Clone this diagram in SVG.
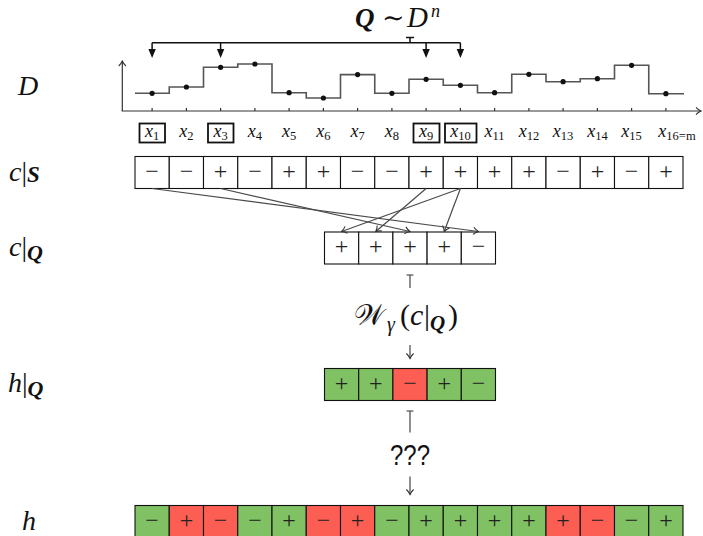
<svg xmlns="http://www.w3.org/2000/svg" width="703" height="536" viewBox="0 0 703 536">
  <defs>
    <style>
      .bg { fill: #ffffff; }
      .cell { stroke: #111; stroke-width: 1.1; }
      .w { fill: #ffffff; }
      .g { fill: #7fc163; }
      .r { fill: #fd5e53; }
      .sg { font-family: "Liberation Serif", "DejaVu Serif", serif; font-size: 24px; fill: #222; text-anchor: middle; }
      .math { font-family: "Liberation Serif", "DejaVu Serif", serif; fill: #111; }
      .it { font-style: italic; }
      .bi { font-style: italic; font-weight: bold; }
      .lbl { font-size: 28px; }
      .xl { font-family: "Liberation Serif", "DejaVu Serif", serif; font-style: italic; font-size: 18px; fill: #111; text-anchor: middle; }
      .sub { font-style: normal; font-size: 12.5px; }
      .xbox { fill: none; stroke: #111; stroke-width: 1.8; }
      .axis { fill: none; stroke: #333; stroke-width: 1.2; }
      .step { fill: none; stroke: #555; stroke-width: 1.6; }
      .dot { fill: #111; }
      .pick { fill: none; stroke: #111; stroke-width: 1.5; }
      .map { fill: none; stroke: #4a4a4a; stroke-width: 1.2; }
      .flow { fill: none; stroke: #333; stroke-width: 1.1; }
    </style>
    <!-- open curved "to" arrowhead -->
    <marker id="to" viewBox="-7 -5 8 10" refX="0" refY="0" markerWidth="8" markerHeight="10" orient="auto" markerUnits="userSpaceOnUse">
      <path d="M-5,-3.6 C-3,-1.4 -0.9,-0.4 0,0 C-0.9,0.4 -3,1.4 -5,3.6" fill="none" stroke="#333" stroke-width="1.1"/>
    </marker>
    <!-- filled triangular arrowhead -->
    <marker id="latex" viewBox="-7 -5 11 10" refX="0" refY="0" markerWidth="11" markerHeight="10" orient="auto" markerUnits="userSpaceOnUse">
      <path d="M-6,-3.7 L3,0 L-6,3.7 Z" fill="#111"/>
    </marker>
  </defs>

  <rect class="bg" x="0" y="0" width="703" height="536"/>

  <!-- row labels -->
  <g id="label-D">
    <text class="math it lbl" x="18" y="95">D</text>
  </g>
  <g id="label-cS">
    <text class="math lbl" x="9" y="181"><tspan class="it">c</tspan><tspan>|</tspan><tspan class="bi" font-size="23" dy="1">S</tspan></text>
  </g>
  <g id="label-cQ">
    <text class="math lbl" x="9" y="256"><tspan class="it">c</tspan><tspan>|</tspan><tspan class="bi" font-size="22" dy="4">Q</tspan></text>
  </g>
  <g id="label-hQ">
    <text class="math lbl" x="8" y="392"><tspan class="it">h</tspan><tspan>|</tspan><tspan class="bi" font-size="22" dy="4">Q</tspan></text>
  </g>
  <g id="label-h">
    <text class="math it lbl" x="22" y="530">h</text>
  </g>

  <!-- sampling title -->
  <g id="title">
    <text class="math" font-size="27" y="27"><tspan class="bi" x="355">Q</tspan><tspan x="382" font-weight="normal">∼</tspan><tspan class="it" x="407" font-size="29">D</tspan><tspan class="it" x="431" y="17" font-size="18">n</tspan></text>
  </g>

  <!-- distribution plot -->
  <g id="distribution">
    <line class="axis" x1="122.3" y1="111" x2="122.3" y2="61" marker-end="url(#to)"/>
    <line class="axis" x1="121.7" y1="111" x2="701" y2="111" marker-end="url(#to)"/>
    <path class="axis" d="M152.1,108V111M186.4,108V111M220.6,108V111M254.9,108V111M289.1,108V111M323.4,108V111M357.6,108V111M391.9,108V111M426.1,108V111M460.4,108V111M494.6,108V111M528.9,108V111M563.1,108V111M597.4,108V111M631.6,108V111M665.9,108V111"/>
    <path class="step" d="M135,93.3H169.25V87H203.5V67.3H237.75V64H272V92.7H306.25V98H340.5V74.6H374.75V93.3H409V79.3H443.25V85.3H477.5V92.7H511.75V74.3H546V81.7H580.25V78.7H614.5V65.3H648.75V93.7H684"/>
    <g>
      <circle class="dot" cx="152.1" cy="93.3" r="2.6"/>
      <circle class="dot" cx="186.4" cy="87" r="2.6"/>
      <circle class="dot" cx="220.6" cy="67.3" r="2.6"/>
      <circle class="dot" cx="254.9" cy="64" r="2.6"/>
      <circle class="dot" cx="289.1" cy="92.7" r="2.6"/>
      <circle class="dot" cx="323.4" cy="98" r="2.6"/>
      <circle class="dot" cx="357.6" cy="74.6" r="2.6"/>
      <circle class="dot" cx="391.9" cy="93.3" r="2.6"/>
      <circle class="dot" cx="426.1" cy="79.3" r="2.6"/>
      <circle class="dot" cx="460.4" cy="85.3" r="2.6"/>
      <circle class="dot" cx="494.6" cy="92.7" r="2.6"/>
      <circle class="dot" cx="528.9" cy="74.3" r="2.6"/>
      <circle class="dot" cx="563.1" cy="81.7" r="2.6"/>
      <circle class="dot" cx="597.4" cy="78.7" r="2.6"/>
      <circle class="dot" cx="631.6" cy="65.3" r="2.6"/>
      <circle class="dot" cx="665.9" cy="93.7" r="2.6"/>
    </g>
  </g>

  <!-- sample point labels -->
  <g id="points">
    <rect class="xbox" x="139.5" y="123.5" width="25.5" height="19"/>
    <rect class="xbox" x="208" y="123.5" width="25.5" height="19"/>
    <rect class="xbox" x="413.5" y="123.5" width="26" height="19"/>
    <rect class="xbox" x="445" y="123.5" width="31.5" height="19"/>
    <text class="xl" x="152.1" y="137">x<tspan class="sub" dy="3">1</tspan></text>
    <text class="xl" x="186.4" y="137">x<tspan class="sub" dy="3">2</tspan></text>
    <text class="xl" x="220.6" y="137">x<tspan class="sub" dy="3">3</tspan></text>
    <text class="xl" x="254.9" y="137">x<tspan class="sub" dy="3">4</tspan></text>
    <text class="xl" x="289.1" y="137">x<tspan class="sub" dy="3">5</tspan></text>
    <text class="xl" x="323.4" y="137">x<tspan class="sub" dy="3">6</tspan></text>
    <text class="xl" x="357.6" y="137">x<tspan class="sub" dy="3">7</tspan></text>
    <text class="xl" x="391.9" y="137">x<tspan class="sub" dy="3">8</tspan></text>
    <text class="xl" x="426.1" y="137">x<tspan class="sub" dy="3">9</tspan></text>
    <text class="xl" x="460.4" y="137">x<tspan class="sub" dy="3">10</tspan></text>
    <text class="xl" x="494.6" y="137">x<tspan class="sub" dy="3">11</tspan></text>
    <text class="xl" x="528.9" y="137">x<tspan class="sub" dy="3">12</tspan></text>
    <text class="xl" x="563.1" y="137">x<tspan class="sub" dy="3">13</tspan></text>
    <text class="xl" x="597.4" y="137">x<tspan class="sub" dy="3">14</tspan></text>
    <text class="xl" x="631.6" y="137">x<tspan class="sub" dy="3">15</tspan></text>
    <text class="xl" x="677" y="137">x<tspan class="sub" dy="3">16=</tspan><tspan class="sub" font-style="italic">m</tspan></text>
  </g>

  <!-- true concept on the sample space -->
  <g id="row-cS">
    <rect class="cell w" x="135" y="156.5" width="34.25" height="32"/>
    <rect class="cell w" x="169.25" y="156.5" width="34.25" height="32"/>
    <rect class="cell w" x="203.5" y="156.5" width="34.25" height="32"/>
    <rect class="cell w" x="237.75" y="156.5" width="34.25" height="32"/>
    <rect class="cell w" x="272" y="156.5" width="34.25" height="32"/>
    <rect class="cell w" x="306.25" y="156.5" width="34.25" height="32"/>
    <rect class="cell w" x="340.5" y="156.5" width="34.25" height="32"/>
    <rect class="cell w" x="374.75" y="156.5" width="34.25" height="32"/>
    <rect class="cell w" x="409" y="156.5" width="34.25" height="32"/>
    <rect class="cell w" x="443.25" y="156.5" width="34.25" height="32"/>
    <rect class="cell w" x="477.5" y="156.5" width="34.25" height="32"/>
    <rect class="cell w" x="511.75" y="156.5" width="34.25" height="32"/>
    <rect class="cell w" x="546" y="156.5" width="34.25" height="32"/>
    <rect class="cell w" x="580.25" y="156.5" width="34.25" height="32"/>
    <rect class="cell w" x="614.5" y="156.5" width="34.25" height="32"/>
    <rect class="cell w" x="648.75" y="156.5" width="34.25" height="32"/>
    <text class="sg" x="152.1" y="178.5">−</text>
    <text class="sg" x="186.4" y="178.5">−</text>
    <text class="sg" x="220.6" y="178.5">+</text>
    <text class="sg" x="254.9" y="178.5">−</text>
    <text class="sg" x="289.1" y="178.5">+</text>
    <text class="sg" x="323.4" y="178.5">+</text>
    <text class="sg" x="357.6" y="178.5">−</text>
    <text class="sg" x="391.9" y="178.5">−</text>
    <text class="sg" x="426.1" y="178.5">+</text>
    <text class="sg" x="460.4" y="178.5">+</text>
    <text class="sg" x="494.6" y="178.5">+</text>
    <text class="sg" x="528.9" y="178.5">+</text>
    <text class="sg" x="563.1" y="178.5">−</text>
    <text class="sg" x="597.4" y="178.5">+</text>
    <text class="sg" x="631.6" y="178.5">−</text>
    <text class="sg" x="665.9" y="178.5">+</text>
  </g>

  <!-- labelled sample -->
  <g id="row-cQ">
    <rect class="cell w" x="324.5" y="232" width="34.2" height="32"/>
    <rect class="cell w" x="358.7" y="232" width="34.2" height="32"/>
    <rect class="cell w" x="392.9" y="232" width="34.2" height="32"/>
    <rect class="cell w" x="427.1" y="232" width="34.2" height="32"/>
    <rect class="cell w" x="461.3" y="232" width="34.2" height="32"/>
    <text class="sg" x="341.6" y="254">+</text>
    <text class="sg" x="375.8" y="254">+</text>
    <text class="sg" x="410" y="254">+</text>
    <text class="sg" x="444.2" y="254">+</text>
    <text class="sg" x="478.4" y="254">−</text>
  </g>

  <!-- learner applied to the sample -->
  <g id="learner">
    <text class="math" font-size="30" y="325"><tspan x="354" font-family="DejaVu Serif, DejaVu Sans, serif" font-size="29">𝒲</tspan><tspan class="it" x="387" y="331" font-size="20">γ</tspan><tspan x="400" y="325">(</tspan><tspan class="it" x="410">c</tspan><tspan x="424">|</tspan><tspan class="bi" x="430" y="330" font-size="21">Q</tspan><tspan x="448" y="325">)</tspan></text>
  </g>

  <!-- hypothesis on the sample -->
  <g id="row-hQ">
    <rect class="cell g" x="324.5" y="368.5" width="34.2" height="32"/>
    <rect class="cell g" x="358.7" y="368.5" width="34.2" height="32"/>
    <rect class="cell r" x="392.9" y="368.5" width="34.2" height="32"/>
    <rect class="cell g" x="427.1" y="368.5" width="34.2" height="32"/>
    <rect class="cell g" x="461.3" y="368.5" width="34.2" height="32"/>
    <text class="sg" x="341.6" y="390.5">+</text>
    <text class="sg" x="375.8" y="390.5">+</text>
    <text class="sg" x="410" y="390.5">−</text>
    <text class="sg" x="444.2" y="390.5">+</text>
    <text class="sg" x="478.4" y="390.5">−</text>
  </g>

  <g id="unknown">
    <text x="410" y="465" font-family="Liberation Sans, Arial, sans-serif" font-size="30" fill="#111" text-anchor="middle" textLength="40" lengthAdjust="spacingAndGlyphs">???</text>
  </g>

  <!-- hypothesis on the full space -->
  <g id="row-h">
    <rect class="cell g" x="135" y="505.5" width="34.25" height="32"/>
    <rect class="cell r" x="169.25" y="505.5" width="34.25" height="32"/>
    <rect class="cell r" x="203.5" y="505.5" width="34.25" height="32"/>
    <rect class="cell g" x="237.75" y="505.5" width="34.25" height="32"/>
    <rect class="cell g" x="272" y="505.5" width="34.25" height="32"/>
    <rect class="cell r" x="306.25" y="505.5" width="34.25" height="32"/>
    <rect class="cell r" x="340.5" y="505.5" width="34.25" height="32"/>
    <rect class="cell g" x="374.75" y="505.5" width="34.25" height="32"/>
    <rect class="cell g" x="409" y="505.5" width="34.25" height="32"/>
    <rect class="cell g" x="443.25" y="505.5" width="34.25" height="32"/>
    <rect class="cell g" x="477.5" y="505.5" width="34.25" height="32"/>
    <rect class="cell g" x="511.75" y="505.5" width="34.25" height="32"/>
    <rect class="cell r" x="546" y="505.5" width="34.25" height="32"/>
    <rect class="cell r" x="580.25" y="505.5" width="34.25" height="32"/>
    <rect class="cell g" x="614.5" y="505.5" width="34.25" height="32"/>
    <rect class="cell g" x="648.75" y="505.5" width="34.25" height="32"/>
    <text class="sg" x="152.1" y="527.5">−</text>
    <text class="sg" x="186.4" y="527.5">+</text>
    <text class="sg" x="220.6" y="527.5">−</text>
    <text class="sg" x="254.9" y="527.5">−</text>
    <text class="sg" x="289.1" y="527.5">+</text>
    <text class="sg" x="323.4" y="527.5">−</text>
    <text class="sg" x="357.6" y="527.5">+</text>
    <text class="sg" x="391.9" y="527.5">−</text>
    <text class="sg" x="426.1" y="527.5">+</text>
    <text class="sg" x="460.4" y="527.5">+</text>
    <text class="sg" x="494.6" y="527.5">+</text>
    <text class="sg" x="528.9" y="527.5">+</text>
    <text class="sg" x="563.1" y="527.5">+</text>
    <text class="sg" x="597.4" y="527.5">−</text>
    <text class="sg" x="631.6" y="527.5">−</text>
    <text class="sg" x="665.9" y="527.5">+</text>
  </g>

  <!-- connectors -->
  <g id="connectors">
    <!-- draws from D -->
    <path class="pick" d="M410,37.5V42.7M406,37.5H414M152.1,42.7H460.4"/>
    <line class="pick" x1="152.1" y1="42.7" x2="152.1" y2="55" marker-end="url(#latex)"/>
    <line class="pick" x1="220.6" y1="42.7" x2="220.6" y2="55" marker-end="url(#latex)"/>
    <line class="pick" x1="426.1" y1="42.7" x2="426.1" y2="55" marker-end="url(#latex)"/>
    <line class="pick" x1="460.4" y1="42.7" x2="460.4" y2="55" marker-end="url(#latex)"/>
    <!-- sample points to the labelled sample -->
    <line class="map" x1="152.1" y1="188.5" x2="478.4" y2="231.5" marker-end="url(#to)"/>
    <line class="map" x1="220.6" y1="188.5" x2="410" y2="231.5" marker-end="url(#to)"/>
    <line class="map" x1="426.1" y1="188.5" x2="375.8" y2="231.5" marker-end="url(#to)"/>
    <line class="map" x1="460.4" y1="188.5" x2="341.6" y2="231.5" marker-end="url(#to)"/>
    <line class="map" x1="460.4" y1="188.5" x2="444.2" y2="231.5" marker-end="url(#to)"/>
    <!-- learning step -->
    <path class="flow" d="M410,275V288M406.5,275H413.5"/>
    <line class="flow" x1="410" y1="345" x2="410" y2="358.5" marker-end="url(#to)"/>
    <!-- extension step -->
    <path class="flow" d="M410,411V432.5M406.5,411H413.5"/>
    <line class="flow" x1="410" y1="476.5" x2="410" y2="494.5" marker-end="url(#to)"/>
  </g>
</svg>
